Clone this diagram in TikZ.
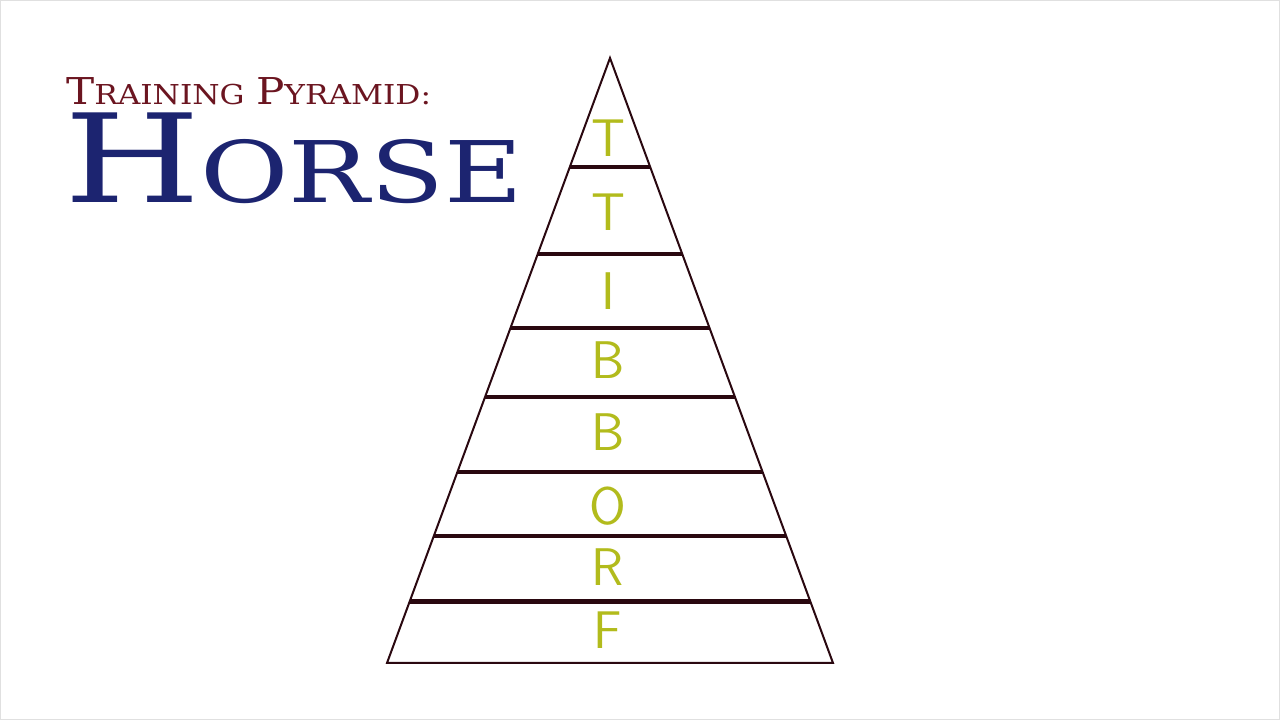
\documentclass[tikz,border=0pt]{standalone}
\usepackage{graphicx}
\usepackage{fontspec}
\usetikzlibrary{calc, positioning}

\newfontfamily\titlefont{DejaVu Serif}

\definecolor{titlered}{HTML}{6B1520}
\definecolor{horseblue}{HTML}{1C2470}
\definecolor{letterolive}{HTML}{B2BB1C}
\definecolor{pyrline}{HTML}{2A0810}

% fake small caps: first letter big, the rest smaller capitals
\newcommand{\bigsmall}[4]{{\fontsize{#1}{#1}\selectfont #3}{\fontsize{#2}{#2}\selectfont #4}}

\begin{document}
\begin{tikzpicture}[%
    x=1pt, y=1pt,
    outline/.style={draw=pyrline, line width=2pt, line join=miter},
    rung/.style={draw=pyrline, line width=4.5pt},
    letter/.style={text=letterolive, font=\sffamily\fontsize{53}{53}\selectfont, inner sep=0pt},
    heading/.style={text=titlered, font=\titlefont, inner sep=0pt, anchor=base west},
    horse/.style={text=horseblue, font=\titlefont, inner sep=0pt, anchor=base west}
  ]

  \useasboundingbox (0,0) rectangle (1280,720);
  \draw[black!12, line width=1pt] (0.5,0.5) rectangle (1279.5,719.5);

  % title
  \node[heading] (title) at (66,615)
    {\scalebox{1.14}[1]{\bigsmall{37}{27.4}{T}{RAINING}\hspace{10pt}\bigsmall{37}{27.4}{P}{YRAMID:}}};
  \node[horse] (name) at ([xshift=-2pt, yshift=-98pt]title.base west)
    {\scalebox{1.27}[1]{\bigsmall{123}{85}{H}{ORSE}}};

  % pyramid
  \coordinate (apex) at (610,662);
  \coordinate (bl) at (387,57);
  \coordinate (br) at (833,57);
  \draw[outline] (apex) -- (bl) -- (br) -- cycle;

  \foreach \t in {0.180, 0.324, 0.446, 0.560, 0.684, 0.790, 0.898}
    \draw[rung] ($(apex)!\t!(bl)$) -- ($(apex)!\t!(br)$);

  % letters
  \foreach \l/\y [count=\i] in {T/138, T/212, I/291, B/360, B/432, O/506, R/567, F/630}
    \node[letter] (l\i) at (608,720-\y) {\l};
\end{tikzpicture}
\end{document}
